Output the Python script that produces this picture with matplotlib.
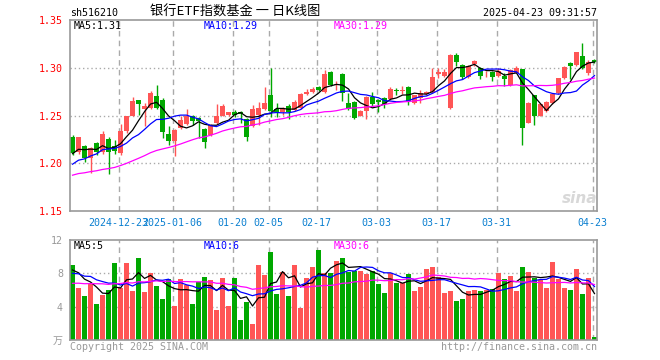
import numpy as np
import pandas as pd
import matplotlib
matplotlib.use('Agg')
import matplotlib.pyplot as plt

# daily candles, 2024-12-11 .. 2025-04-23 (88 sessions)
open_ = [1.228, 1.212, 1.218, 1.205, 1.221, 1.212, 1.225, 1.218, 1.211, 1.234,
         1.250, 1.266, 1.257, 1.258, 1.270, 1.266, 1.231, 1.223, 1.237, 1.241,
         1.250, 1.247, 1.236, 1.230, 1.242, 1.250, 1.251, 1.254, 1.254, 1.246,
         1.239, 1.251, 1.257, 1.271, 1.257, 1.254, 1.260, 1.256, 1.258, 1.272,
         1.275, 1.280, 1.275, 1.296, 1.282, 1.293, 1.263, 1.264, 1.250, 1.255,
         1.269, 1.266, 1.268, 1.267, 1.277, 1.276, 1.280, 1.263, 1.268, 1.273,
         1.275, 1.293, 1.291, 1.258, 1.313, 1.303, 1.290, 1.304, 1.300, 1.294,
         1.296, 1.291, 1.291, 1.282, 1.294, 1.299, 1.242, 1.271, 1.250, 1.255,
         1.263, 1.274, 1.289, 1.305, 1.303, 1.312, 1.294, 1.308]
high = [1.230, 1.228, 1.219, 1.217, 1.222, 1.234, 1.227, 1.224, 1.241, 1.250,
        1.269, 1.266, 1.263, 1.276, 1.282, 1.268, 1.239, 1.236, 1.250, 1.257,
        1.251, 1.248, 1.237, 1.241, 1.262, 1.262, 1.254, 1.256, 1.255, 1.247,
        1.261, 1.264, 1.280, 1.300, 1.263, 1.259, 1.262, 1.266, 1.274, 1.278,
        1.280, 1.281, 1.298, 1.297, 1.286, 1.294, 1.274, 1.265, 1.256, 1.270,
        1.275, 1.267, 1.269, 1.280, 1.279, 1.281, 1.281, 1.271, 1.277, 1.276,
        1.300, 1.300, 1.299, 1.314, 1.315, 1.304, 1.303, 1.308, 1.301, 1.297,
        1.297, 1.300, 1.294, 1.299, 1.302, 1.299, 1.264, 1.271, 1.262, 1.265,
        1.273, 1.289, 1.302, 1.306, 1.317, 1.326, 1.308, 1.309]
low = [1.209, 1.210, 1.201, 1.190, 1.209, 1.210, 1.189, 1.210, 1.209, 1.232,
       1.249, 1.251, 1.239, 1.257, 1.257, 1.226, 1.219, 1.208, 1.236, 1.240,
       1.240, 1.226, 1.216, 1.229, 1.241, 1.249, 1.249, 1.248, 1.242, 1.223,
       1.238, 1.240, 1.256, 1.248, 1.248, 1.251, 1.246, 1.255, 1.257, 1.271,
       1.274, 1.276, 1.274, 1.281, 1.277, 1.265, 1.256, 1.246, 1.249, 1.246,
       1.260, 1.254, 1.258, 1.266, 1.271, 1.272, 1.261, 1.262, 1.263, 1.271,
       1.274, 1.289, 1.290, 1.257, 1.302, 1.288, 1.289, 1.302, 1.288, 1.290,
       1.286, 1.290, 1.281, 1.281, 1.294, 1.219, 1.242, 1.240, 1.249, 1.254,
       1.262, 1.273, 1.288, 1.288, 1.302, 1.299, 1.292, 1.305]
close = [1.211, 1.227, 1.206, 1.216, 1.212, 1.231, 1.212, 1.213, 1.234, 1.249,
         1.265, 1.262, 1.260, 1.274, 1.258, 1.233, 1.223, 1.235, 1.245, 1.249,
         1.244, 1.244, 1.222, 1.240, 1.249, 1.260, 1.254, 1.251, 1.252, 1.227,
         1.257, 1.258, 1.263, 1.255, 1.254, 1.257, 1.254, 1.264, 1.273, 1.275,
         1.278, 1.277, 1.293, 1.282, 1.283, 1.274, 1.257, 1.247, 1.255, 1.269,
         1.262, 1.264, 1.262, 1.278, 1.276, 1.277, 1.265, 1.271, 1.274, 1.275,
         1.290, 1.296, 1.296, 1.313, 1.306, 1.290, 1.302, 1.307, 1.291, 1.295,
         1.290, 1.297, 1.288, 1.298, 1.300, 1.237, 1.263, 1.250, 1.262, 1.264,
         1.272, 1.289, 1.301, 1.302, 1.316, 1.300, 1.306, 1.306]
volume = [9.04, 6.24, 5.28, 6.88, 4.32, 5.40, 6.00, 9.24, 6.24, 9.24,
          5.88, 9.84, 5.76, 8.04, 6.48, 4.92, 7.32, 4.08, 7.32, 6.60,
          4.32, 6.96, 7.56, 7.20, 3.60, 7.44, 4.08, 7.44, 2.40, 4.56,
          1.92, 9.00, 7.80, 10.56, 5.52, 8.16, 5.28, 9.00, 3.84, 7.44,
          8.76, 10.80, 8.04, 8.04, 9.48, 9.84, 8.16, 8.28, 8.28, 7.92,
          8.28, 6.72, 5.64, 8.04, 6.84, 6.84, 7.92, 5.88, 6.36, 8.52,
          8.76, 7.56, 5.64, 5.88, 4.68, 4.92, 5.88, 6.00, 5.88, 6.00,
          6.12, 8.04, 7.32, 7.68, 5.88, 8.76, 8.16, 7.44, 7.20, 6.24,
          9.36, 7.32, 6.24, 6.00, 8.52, 5.52, 7.44, 0.36]

# earlier sessions (off-chart, estimated) - only feed the moving averages
prior_close = [1.176, 1.182, 1.179, 1.185, 1.190, 1.184, 1.178, 1.174, 1.180, 1.186,
               1.183, 1.177, 1.181, 1.188, 1.185, 1.179, 1.183, 1.186, 1.181, 1.178,
               1.185, 1.192, 1.186, 1.190, 1.187, 1.204, 1.208, 1.213, 1.214]
prior_volume = [5.8, 7.1, 6.4, 4.9, 5.6, 8.2, 6.9, 5.3, 6.0, 7.4,
                5.1, 6.6, 5.9, 4.8, 7.0, 6.3, 5.5, 7.8, 6.1, 5.3,
                6.8, 8.1, 7.2, 8.4, 7.5, 7.9, 9.1, 8.6, 7.36]

date_pos = [8, 17, 27, 33, 41, 51, 61, 71, 87]
date_labels = ['2024-12-23', '2025-01-06', '01-20', '02-05', '02-17',
               '03-03', '03-17', '03-31', '04-23']

RED = '#ff5555'
GREEN = '#00a800'
FRAME = '#999999'
GRID = '#aaaaaa'
MONO = 'DejaVu Sans Mono'
FS = 7.2

o = np.array(open_); h = np.array(high); l = np.array(low); c = np.array(close)
v = np.array(volume)
n = len(c)
x = np.arange(n)
cols = np.where(c >= o, RED, GREEN)

def ma(prior, vals, k):
    s = pd.Series(list(prior) + list(vals)).rolling(k).mean()
    return s.iloc[-len(vals):].values

W, H = 660, 360
fig = plt.figure(figsize=(6.6, 3.6), dpi=100)
ax = fig.add_axes([70 / W, 1 - 211 / H, 527 / W, 191 / H])
axv = fig.add_axes([70 / W, 1 - 340 / H, 527 / W, 100 / H])

# candles
ax.vlines(x, l, h, colors=cols, linewidth=1)
body = np.maximum(np.abs(c - o), 0.0009)
ax.bar(x, body, bottom=np.minimum(o, c), width=0.82, color=cols, linewidth=0)
ax.plot(x, ma(prior_close, c, 5), color='black', lw=0.9)
ax.plot(x, ma(prior_close, c, 10), color='#0000ff', lw=0.9)
ax.plot(x, ma(prior_close, c, 30), color='#ff00ff', lw=0.9)

# volume
axv.bar(x, v, width=0.82, color=cols, linewidth=0)
axv.plot(x, ma(prior_volume, v, 5), color='black', lw=0.9)
axv.plot(x, ma(prior_volume, v, 10), color='#0000ff', lw=0.9)
axv.plot(x, ma(prior_volume, v, 30), color='#ff00ff', lw=0.9)

for a in (ax, axv):
    a.set_xlim(-0.42, n - 0.58)
    for s in a.spines.values():
        s.set_color(FRAME)
        s.set_linewidth(1.2)
    for p in date_pos:
        a.axvline(p - 0.3, color=GRID, lw=1, ls=(0, (4, 3)), zorder=0)
    a.tick_params(length=0)

ax.set_ylim(1.15, 1.35)
ax.set_yticks([1.15, 1.20, 1.25, 1.30, 1.35])
ax.set_yticklabels(['%.2f' % t for t in ax.get_yticks()], color='red',
                   family=MONO, fontsize=FS)
for t in [1.20, 1.25, 1.30]:
    ax.axhline(t, color=GRID, lw=1, ls=(0, (1, 2)), zorder=0)
ax.set_xticks([p - 0.3 for p in date_pos])
ax.set_xticklabels(date_labels, color='#0a7fd0', family=MONO, fontsize=FS)
ax.tick_params(axis='x', pad=5)
ax.tick_params(axis='y', pad=5)

axv.set_ylim(0, 12)
axv.set_yticks([0, 4, 8, 12])
axv.set_yticklabels(['万', '4', '8', '12'], color=FRAME,
                    family=[MONO, 'Noto Sans CJK SC'], fontsize=FS)
axv.set_xticks([])
for t in [4, 8]:
    axv.axhline(t, color=GRID, lw=1, ls=(0, (1, 2)), zorder=0)
axv.tick_params(axis='y', pad=5)

def ftext(px, py, s, **kw):
    kw.setdefault('family', MONO)
    kw.setdefault('fontsize', FS)
    kw.setdefault('va', 'center')
    fig.text(px / W, 1 - py / H, s, **kw)

ftext(70, 13, 'sh516210')
ftext(150, 12, '银行ETF指数基金 一 日K线图', family=['Noto Sans CJK SC', MONO], fontsize=9.5)
ftext(597, 13, '2025-04-23 09:31:57', ha='right')

ftext(74, 26, 'MA5:%.2f' % ma(prior_close, c, 5)[-1], color='black')
ftext(204, 26, 'MA10:%.2f' % ma(prior_close, c, 10)[-1], color='#0000ff')
ftext(334, 26, 'MA30:%.2f' % ma(prior_close, c, 30)[-1], color='#ff00ff')
ftext(74, 246, 'MA5:%d' % int(ma(prior_volume, v, 5)[-1]), color='black')
ftext(204, 246, 'MA10:%d' % int(ma(prior_volume, v, 10)[-1]), color='#0000ff')
ftext(334, 246, 'MA30:%d' % int(ma(prior_volume, v, 30)[-1]), color='#ff00ff')

ftext(70, 347, 'Copyright 2025 SINA.COM', color=FRAME)
ftext(597, 347, 'http://finance.sina.com.cn', color=FRAME, ha='right')
ftext(580, 198, 'sina', ha='center', color='#d8d8d8', fontsize=11,
      family='DejaVu Sans', style='italic', weight='bold')

fig.savefig('out.png', dpi=100)
